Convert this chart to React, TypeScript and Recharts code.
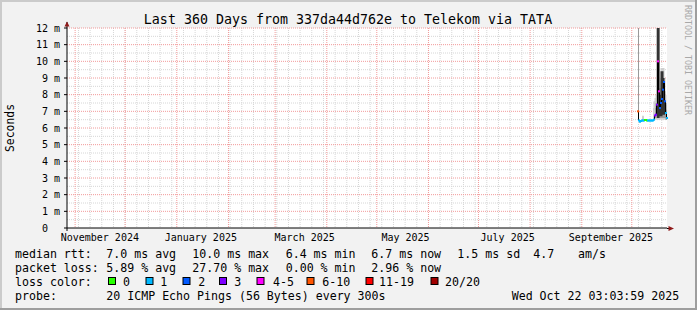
import React from "react"
import { ComposedChart, Area, Line, XAxis, YAxis, CartesianGrid } from "recharts"

const title = "Last 360 Days from 337da44d762e to Telekom via TATA"

// days since window start (Oct 27 2024 03:04), one sample per pixel column
const days = [
  342.6, 343.2, 343.8, 344.4, 345.0, 345.6, 346.2, 346.8, 347.4, 348.0,
  348.6, 349.2, 349.8, 350.4, 351.0, 351.6, 352.2, 352.8, 353.4, 354.0,
  354.6, 355.2, 355.8, 356.4, 357.0, 357.6, 358.2, 358.8, 359.4, 360.0,
]
// median rtt in ms
const median = [
  7.0, 6.45, 6.38, 6.42, 6.45, 6.45, 6.45, 6.48, 6.48, 6.45,
  6.45, 6.45, 6.45, 6.45, 6.45, 6.45, 6.5, 6.75, 6.8, 7.4,
  10.0, 8.2, 7.2, 7.5, 7.74, 8.3, 8.76, 7.6, 6.9, 6.6,
]
// lost pings out of 20
const loss = [
  7, 1, 1, 1, 1, 1, 1, 0, 0, 0,
  1, 1, 1, 1, 1, 1, 1, 3, 3, 3,
  4, 4, 2, 2, 2, 2, 2, 2, 1, 1,
]
type Band = [number, number] | null
const smokeLight: Band[] = [
  null, null, null, null, [6.45, 6.7], [6.45, 6.75], [6.45, 6.7], null, null, null,
  null, null, null, null, null, [6.5, 7.2], [6.5, 7.6], [6.5, 7.8], [6.5, 8.0], [6.5, 12],
  [6.5, 12], [6.5, 12], [6.5, 9.0], [6.5, 9.6], [6.5, 9.6], [6.5, 9.6], [6.5, 9.6], [6.5, 9.0], [6.5, 8.0], [6.5, 7.4],
]
const smokeMid: Band[] = [
  [6.9, 12], [6.9, 12], null, null, null, null, null, null, null, null,
  null, null, null, null, null, null, null, [6.6, 7.2], [6.6, 7.5], [6.6, 12],
  [6.6, 12], [6.6, 12], [6.6, 8.4], [6.6, 8.8], [6.6, 8.8], [6.6, 8.8], [6.6, 8.8], [6.6, 8.2], [6.5, 7.5], [6.5, 7.1],
]
const smokeDark: Band[] = [
  null, null, null, null, null, null, null, null, null, null,
  null, null, null, null, null, null, null, null, null, [6.6, 12],
  [6.6, 12], [6.6, 12], [6.7, 8.0], [6.7, 9.4], [6.7, 9.4], [6.8, 9.4], [6.8, 9.0], [6.8, 8.5], null, null,
]

const yTicks = [0, 1, 2, 3, 4, 5, 6, 7, 8, 9, 10, 11, 12]
const monthLabels = ["November 2024", "January 2025", "March 2025", "May 2025", "July 2025", "September 2025"]
const monthLabelDays = [19.7, 80.3, 142.6, 203.1, 264.4, 326.4]
const monthStarts = [
  [2024, 10], [2024, 11], [2025, 0], [2025, 1], [2025, 2], [2025, 3],
  [2025, 4], [2025, 5], [2025, 6], [2025, 7], [2025, 8], [2025, 9],
]

const lossLabels = ["0", "1", "2", "3", "4-5", "6-10", "11-19", "20/20"]
const lossLimits = [0, 1, 2, 3, 5, 10, 19, 20]
const lossColors = ["#26ff00", "#00b8ff", "#0059ff", "#7e00ff", "#ff00ff", "#ff5500", "#ff0000", "#a00000"]

const rttStats = ["7.0 ms avg", "10.0 ms max", "6.4 ms min", "6.7 ms now", "1.5 ms sd", "4.7", "am/s"]
const lossStats = ["5.89 % avg", "27.70 % max", "0.00 % min", "2.96 % now"]
const probeText = "20 ICMP Echo Pings (56 Bytes) every 300s"
const stamp = "Wed Oct 22 03:03:59 2025"

// legend layout (pixels)
const statX = [106.3, 192.3, 285.7, 371.3, 457.3, 533.3, 578]
const boxX = [108, 145.5, 182.5, 219, 256.5, 306.5, 365.5, 430.5]
const boxLabelX = [123, 160.3, 198.3, 234.3, 273, 322.3, 379, 445]

const startMs = Date.UTC(2024, 9, 27, 3, 4)
const dayMs = 86400000
const monthDays = monthStarts.map(([y, m]) => (Date.UTC(y, m, 1) - startMs) / dayMs)
const weekDays: number[] = []
for (let d = (Date.UTC(2024, 10, 3) - startMs) / dayMs; d < 360; d += 7) weekDays.push(d)
const minorY = yTicks.slice(0, 12).map((v) => v + 0.5)
const majorY = yTicks.slice(1)

const lossColor = (n: number) => {
  const i = lossLimits.findIndex((l) => n <= l)
  return lossColors[i < 0 ? lossColors.length - 1 : i]
}

const font = "'DejaVu Sans Mono', monospace"

export default function App() {
  const data = days.map((day, i) => ({
    day,
    median: median[i],
    loss: loss[i],
    light: smokeLight[i],
    mid: smokeMid[i],
    dark: smokeDark[i],
  }))

  const XTick = ({ x, y, payload }: any) => {
    const idx = monthLabelDays.indexOf(payload.value)
    return (
      <text x={x} y={y + 13} textAnchor="middle" fontFamily={font} fontSize={10} fill="#000">
        {monthLabels[idx]}
      </text>
    )
  }

  const YTick = ({ x, y, payload }: any) => {
    const v = payload.value
    return (
      <text x={v === 0 ? x - 12 : x} y={y + 3.6} textAnchor="end" fontFamily={font} fontSize={10} fill="#000">
        {v === 0 ? "0" : `${v} m`}
      </text>
    )
  }

  const rows = [258, 271.8, 285.6, 299.5]

  return (
    <div style={{ position: "absolute", left: 0, top: 0, width: 697, height: 310, background: "#f2f2f2" }}>
      <ComposedChart width={697} height={310} data={data} margin={{ top: 28, right: 30, bottom: 52, left: 7 }}>
        <CartesianGrid
          stroke="#d6d6d6"
          strokeDasharray="1 1"
          fill="#ffffff"
          fillOpacity={1}
          horizontalValues={minorY}
          verticalValues={weekDays}
        />
        <CartesianGrid stroke="#f29a9a" strokeDasharray="1 1" horizontalValues={majorY} verticalValues={monthDays} />
        <XAxis
          type="number"
          dataKey="day"
          domain={[0, 360]}
          ticks={monthLabelDays}
          interval={0}
          tickLine={false}
          tickSize={0}
          tickMargin={0}
          tick={<XTick />}
          axisLine={{ stroke: "#000" }}
          height={30}
        />
        <YAxis
          type="number"
          domain={[0, 12]}
          ticks={yTicks}
          interval={0}
          tickSize={3}
          tickMargin={4}
          tickLine={{ stroke: "#000" }}
          tick={<YTick />}
          axisLine={{ stroke: "#000" }}
          width={60}
        />
        <Area dataKey="light" type="step" stroke="none" fill="#cfcfcf" fillOpacity={1} isAnimationActive={false} />
        <Area dataKey="mid" type="step" stroke="none" fill="#9a9a9a" fillOpacity={1} isAnimationActive={false} />
        <Area dataKey="dark" type="step" stroke="none" fill="#333333" fillOpacity={1} isAnimationActive={false} />
        <Line
          dataKey="median"
          type="step"
          stroke="#000"
          strokeWidth={1}
          isAnimationActive={false}
          activeDot={false}
          dot={(p: any) => (
            <rect key={p.index} x={p.cx - 1} y={p.cy - 1} width={2} height={2} fill={lossColor(p.payload.loss)} />
          )}
        />
      </ComposedChart>

      <svg width={697} height={310} style={{ position: "absolute", left: 0, top: 0, pointerEvents: "none" }}>
        <rect x={0} y={0} width={697} height={2} fill="#cbcbcb" />
        <rect x={0} y={0} width={2} height={310} fill="#cbcbcb" />
        <rect x={695} y={0} width={2} height={310} fill="#9e9e9e" />
        <rect x={0} y={308} width={697} height={2} fill="#9e9e9e" />

        <line x1={67} y1={22} x2={67} y2={28} stroke="#000" />
        <line x1={67} y1={228} x2={67} y2={231} stroke="#000" />
        <line x1={667} y1={228.5} x2={669} y2={228.5} stroke="#000" />
        <polygon points="67,21.5 64.5,26.5 69.5,26.5" fill="#8f1a1a" />
        <polygon points="674,228.5 668.5,226 668.5,231" fill="#8f1a1a" />

        <text x={348} y={24} textAnchor="middle" fontFamily={font} fontSize={13.3} fill="#000">
          {title}
        </text>
        <text
          x={10}
          y={128}
          transform="rotate(-90 10 128)"
          textAnchor="middle"
          dominantBaseline="central"
          fontFamily={font}
          fontSize={11.4}
          fill="#000"
        >
          Seconds
        </text>
        <text
          x={688}
          y={60}
          transform="rotate(90 688 60)"
          textAnchor="middle"
          dominantBaseline="central"
          fontFamily={font}
          fontSize={8.3}
          fill="#a8a8a8"
        >
          RRDTOOL / TOBI OETIKER
        </text>

        <g fontFamily={font} fontSize={11.6} fill="#000">
          <text x={15} y={rows[0]}>median rtt:</text>
          {rttStats.map((s, i) => (
            <text key={s} x={statX[i]} y={rows[0]}>{s}</text>
          ))}
          <text x={15} y={rows[1]}>packet loss:</text>
          {lossStats.map((s, i) => (
            <text key={s} x={statX[i]} y={rows[1]}>{s}</text>
          ))}
          <text x={15} y={rows[2]}>loss color:</text>
          {lossLabels.map((s, i) => (
            <g key={s}>
              <rect x={boxX[i] + 0.5} y={277.5} width={7} height={7} fill={lossColors[i]} stroke="#000" />
              <text x={boxLabelX[i]} y={rows[2]}>{s}</text>
            </g>
          ))}
          <text x={15} y={rows[3]}>probe:</text>
          <text x={statX[0]} y={rows[3]}>{probeText}</text>
          <text x={511.7} y={rows[3]}>{stamp}</text>
        </g>
      </svg>
    </div>
  )
}
